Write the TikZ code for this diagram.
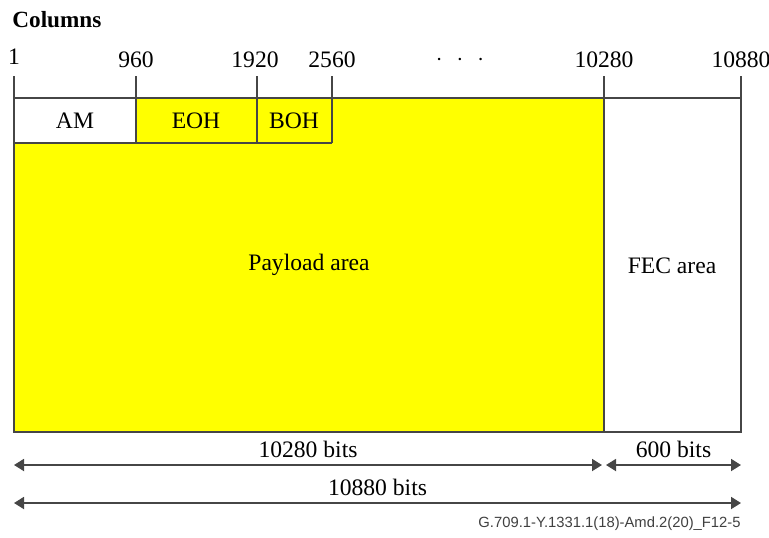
\documentclass[tikz,border=0pt]{standalone}
\usepackage{fontspec}
\setmainfont{Liberation Serif}
\newfontfamily\figfont{Liberation Sans}
\usetikzlibrary{arrows.meta}
\definecolor{Fill}{RGB}{255,255,0}
\definecolor{Rule}{RGB}{70,70,70}
\begin{document}
\begin{tikzpicture}[x=.5pt,y=-.5pt,
 t/.style={font=\fontsize{11.8}{14}\selectfont,inner sep=0pt,text=black},
 l/.style={draw=Rule,line width=.7pt},
 d/.style={{Triangle[width=6pt,length=5pt]}-{Triangle[width=6pt,length=5pt]},line width=.9pt,Rule}]
\useasboundingbox (0,0) rectangle (769,537);
% yellow payload and overhead
\fill[Fill] (136,98) -- (604,98) -- (604,432) -- (14,432) -- (14,143) -- (136,143) -- cycle;
% frame
\draw[l] (14,98) rectangle (741,432);
\draw[l] (604,98) -- (604,432);
\draw[l] (14,143) -- (332,143);
\foreach \x in {136,257,332} \draw[l] (\x,98) -- (\x,143);
% column ticks
\foreach \x in {14,136,257,332,604,741} \draw[l] (\x,76) -- (\x,98);
\node[t,anchor=west,font=\fontsize{11.6}{14}\selectfont\bfseries] (cols) at (12,20) {Columns};
\node[t] (c1) at (14,57) {1};
\node[t] (c960) at (136,60) {960};
\node[t] (c1920) at (255,60) {1920};
\node[t] (c2560) at (332,60) {2560};
\node[t] (cdots) at (460,60) {$\cdot$\hspace{.6em}$\cdot$\hspace{.6em}$\cdot$};
\node[t] (c10280) at (604,60) {10280};
\node[t] (c10880) at (741,60) {10880};
% fields
\node[t] (am) at (75,121) {AM};
\node[t] (eoh) at (196,121) {EOH};
\node[t] (boh) at (294,121) {BOH};
\node[t] (pay) at (309,265) {Payload area};
\node[t] (fec) at (672,266) {FEC area};
% lengths
\coordinate (a0) at (14,465);
\coordinate (a1) at (602,465);
\coordinate (b0) at (606,465);
\coordinate (b1) at (741,465);
\coordinate (e0) at (14,503);
\coordinate (e1) at (741,503);
\draw[d] (a0) -- (a1) node[t,midway,above=3pt] (n10280) {10280 bits};
\draw[d] (b0) -- (b1) node[t,midway,above=3pt] (n600) {600 bits};
\draw[d] (e0) -- (e1) node[t,midway,above=3pt] (n10880) {10880 bits};
\node[anchor=east,inner sep=0pt,font=\figfont\fontsize{7.4}{9}\selectfont,text=black!75] (ref) at (741,524) {G.709.1-Y.1331.1(18)-Amd.2(20)\_F12-5};
\end{tikzpicture}
\end{document}
